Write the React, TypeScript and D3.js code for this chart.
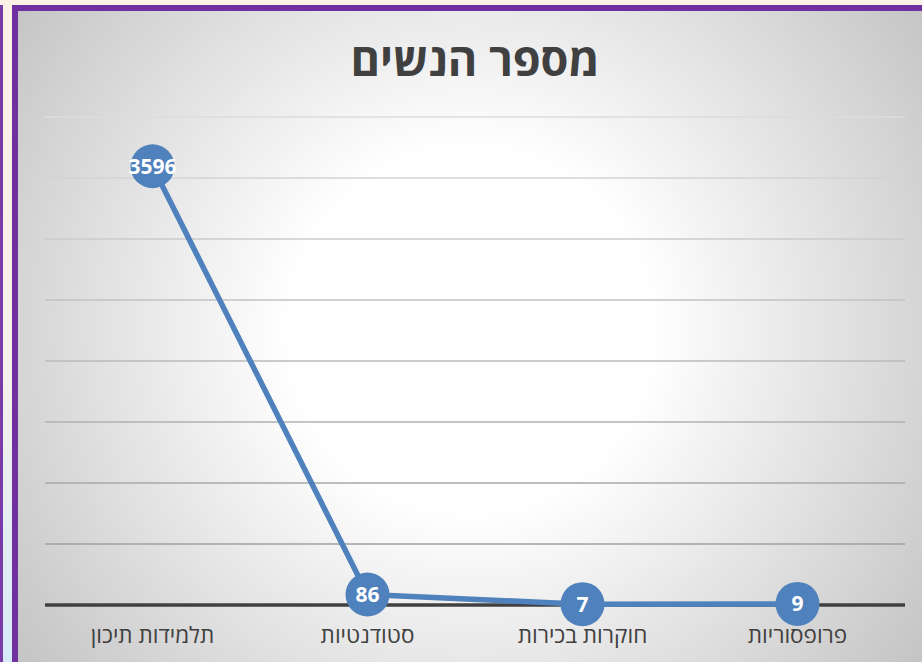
import { useEffect, useRef } from 'react';
import * as d3 from 'd3';

const categories = ['תלמידות תיכון', 'סטודנטיות', 'חוקרות בכירות', 'פרופסוריות'];
const womenCount = [3596, 86, 7, 9];
const yTicks = [0, 500, 1000, 1500, 2000, 2500, 3000, 3500, 4000];

const chartTitle = 'מספר הנשים';

const WIDTH = 922;
const HEIGHT = 662;

const App = () => {
  const ref = useRef<SVGSVGElement | null>(null);

  useEffect(() => {
    if (!ref.current) return;
    const svg = d3.select(ref.current);
    svg.selectAll('*').remove();
    svg.attr('width', WIDTH).attr('height', HEIGHT).attr('viewBox', `0 0 ${WIDTH} ${HEIGHT}`);

    const defs = svg.append('defs');
    const pageGrad = defs
      .append('linearGradient')
      .attr('id', 'pageGrad')
      .attr('x1', 0)
      .attr('y1', 0)
      .attr('x2', 0)
      .attr('y2', 1);
    pageGrad.append('stop').attr('offset', '0%').attr('stop-color', '#fdf1e5');
    pageGrad.append('stop').attr('offset', '55%').attr('stop-color', '#f6f0ea');
    pageGrad.append('stop').attr('offset', '100%').attr('stop-color', '#d6ebf8');

    const bgGrad = defs
      .append('radialGradient')
      .attr('id', 'bgGrad')
      .attr('gradientUnits', 'userSpaceOnUse')
      .attr('cx', 470)
      .attr('cy', 330)
      .attr('r', 600);
    bgGrad.append('stop').attr('offset', '0%').attr('stop-color', '#ffffff');
    bgGrad.append('stop').attr('offset', '30%').attr('stop-color', '#ffffff');
    bgGrad.append('stop').attr('offset', '100%').attr('stop-color', '#bebebe');

    // page behind the chart
    svg.append('rect').attr('width', WIDTH).attr('height', HEIGHT).attr('fill', 'url(#pageGrad)');
    svg.append('rect').attr('x', 0).attr('y', 5).attr('width', 3).attr('height', HEIGHT).attr('fill', '#7a3aa8');

    // chart area with purple frame
    svg
      .append('rect')
      .attr('x', 15)
      .attr('y', 8)
      .attr('width', WIDTH + 20)
      .attr('height', HEIGHT + 20)
      .attr('fill', 'url(#bgGrad)')
      .attr('stroke', '#7030a0')
      .attr('stroke-width', 6);

    const margin = { top: 117, right: 17, bottom: 57, left: 45 };
    const innerWidth = WIDTH - margin.left - margin.right;
    const innerHeight = HEIGHT - margin.top - margin.bottom;

    const g = svg.append('g').attr('transform', `translate(${margin.left},${margin.top})`);

    const x = d3.scaleBand<string>().domain(categories).range([0, innerWidth]).padding(0);
    const y = d3.scaleLinear().domain([0, 4000]).range([innerHeight, 0]);
    const cx = (c: string) => (x(c) ?? 0) + x.bandwidth() / 2;

    const gridColor = d3.scaleLinear<string>().domain([500, 4000]).range(['#a0a0a0', '#dcdcdc']);

    g.append('g')
      .selectAll('line')
      .data(yTicks.filter((t) => t > 0))
      .enter()
      .append('line')
      .attr('x1', 0)
      .attr('x2', innerWidth)
      .attr('y1', (t) => y(t))
      .attr('y2', (t) => y(t))
      .attr('stroke', (t) => gridColor(t))
      .attr('stroke-width', 1.3);

    // baseline
    g.append('line')
      .attr('x1', 0)
      .attr('x2', innerWidth)
      .attr('y1', y(0))
      .attr('y2', y(0))
      .attr('stroke', '#404040')
      .attr('stroke-width', 3.5);

    // category labels
    g.append('g')
      .selectAll('text')
      .data(categories)
      .enter()
      .append('text')
      .attr('x', (c) => cx(c))
      .attr('y', innerHeight + 38)
      .attr('text-anchor', 'middle')
      .attr('direction', 'rtl')
      .attr('font-family', "'Open Sans', 'DejaVu Sans', sans-serif")
      .attr('font-size', 22.5)
      .attr('fill', '#404040')
      .text((c) => c);

    const points = categories.map((c, i) => ({ c, v: womenCount[i] }));

    const line = d3
      .line<{ c: string; v: number }>()
      .x((d) => cx(d.c))
      .y((d) => y(d.v));

    g.append('path')
      .datum(points)
      .attr('d', line)
      .attr('fill', 'none')
      .attr('stroke', '#4f81bd')
      .attr('stroke-width', 5.5)
      .attr('stroke-linejoin', 'round');

    const marks = g.append('g').selectAll('g').data(points).enter().append('g');
    marks
      .append('circle')
      .attr('cx', (d) => cx(d.c))
      .attr('cy', (d) => y(d.v))
      .attr('r', 22)
      .attr('fill', '#4f81bd');
    marks
      .append('text')
      .attr('x', (d) => cx(d.c))
      .attr('y', (d) => y(d.v))
      .attr('dy', '0.36em')
      .attr('text-anchor', 'middle')
      .attr('font-family', "'Open Sans', 'DejaVu Sans', sans-serif")
      .attr('font-weight', 700)
      .attr('font-size', 21)
      .attr('fill', '#ffffff')
      .text((d) => d.v);

    // title
    svg
      .append('text')
      .attr('x', margin.left + innerWidth / 2)
      .attr('y', 76)
      .attr('text-anchor', 'middle')
      .attr('direction', 'rtl')
      .attr('font-family', "'Open Sans', 'DejaVu Sans', sans-serif")
      .attr('font-weight', 700)
      .attr('font-size', 45)
      .attr('fill', '#404040')
      .text(chartTitle);
  }, []);

  return (
    <div style={{ position: 'absolute', left: 0, top: 0 }}>
      <svg ref={ref} role="img" aria-label={chartTitle} style={{ display: 'block' }} />
    </div>
  );
};

export default App;
